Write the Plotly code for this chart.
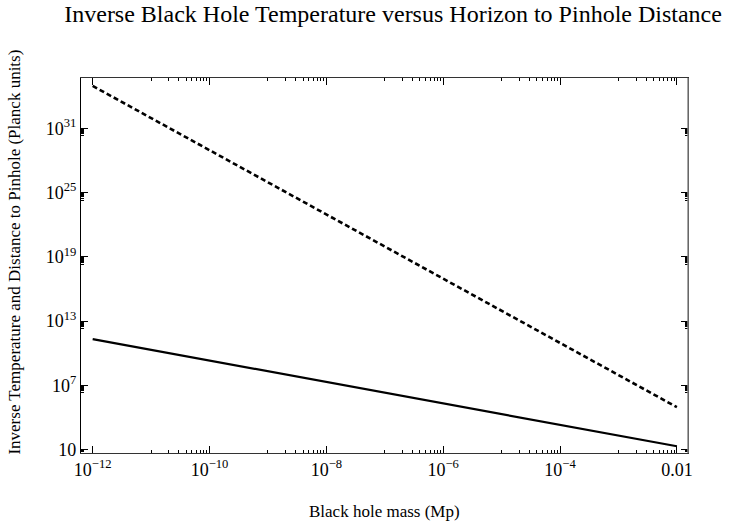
import plotly.graph_objects as go

# Data (log-log straight lines)
mass = [1e-12, 1e-11, 1e-10, 1e-9, 1e-8, 1e-7, 1e-6, 1e-5, 1e-4, 1e-3, 1e-2]
inverse_temperature = [2.05e11, 2.05e10, 2.05e9, 2.05e8, 2.05e7, 2.05e6, 2.05e5, 2.05e4, 2.05e3, 2.05e2, 20.5]
pinhole_distance = [9.1e34, 9.1e31, 9.1e28, 9.1e25, 9.1e22, 9.1e19, 9.1e16, 9.1e13, 9.1e10, 9.1e7, 9.1e4]

x_tickvals = [1e-12, 1e-10, 1e-8, 1e-6, 1e-4, 1e-2]
x_ticktext = ["10<sup>\u221212</sup>", "10<sup>\u221210</sup>", "10<sup>\u22128</sup>",
              "10<sup>\u22126</sup>", "10<sup>\u22124</sup>", "0.01"]
y_tickvals = [1e1, 1e7, 1e13, 1e19, 1e25, 1e31]
y_ticktext = ["10", "10<sup>7</sup>", "10<sup>13</sup>", "10<sup>19</sup>",
              "10<sup>25</sup>", "10<sup>31</sup>"]

FONT = "Liberation Serif"

x_minor = []
for e in [-11, -9, -7, -5, -3]:
    for k in range(1, 10):
        x_minor.append(k * 10.0 ** e)
y_minor = []
for e in [0, 6, 12, 18, 24, 30]:
    for k in range(2, 10):
        y_minor.append(k * 10.0 ** e)

fig = go.Figure()
fig.add_trace(go.Scatter(x=mass, y=pinhole_distance, mode="lines",
                         line=dict(color="black", width=2.6, dash="5px,3px"),
                         showlegend=False))
fig.add_trace(go.Scatter(x=mass, y=inverse_temperature, mode="lines",
                         line=dict(color="black", width=2.2),
                         showlegend=False))

fig.update_layout(
    width=732, height=527,
    margin=dict(l=81, r=44, t=78, b=74),
    paper_bgcolor="white", plot_bgcolor="white",
    font=dict(family=FONT, size=16, color="black"),
    title=dict(text="Inverse Black Hole Temperature versus Horizon to Pinhole Distance",
               x=0.537, xref="container", xanchor="center",
               y=0.975, yref="container", yanchor="middle",
               font=dict(family=FONT, size=24, color="black")),
    xaxis=dict(type="log", range=[-12.2, -1.81], tickvals=x_tickvals, ticktext=x_ticktext,
               ticks="inside", ticklen=7, tickwidth=1, tickcolor="black",
               showline=True, linecolor="#333", linewidth=1.2, mirror="ticks",
               showgrid=False, zeroline=False,
               minor=dict(tickvals=x_minor, ticks="inside", ticklen=3, tickcolor="black", showgrid=False),
               tickfont=dict(family=FONT, size=18)),
    yaxis=dict(type="log", range=[0.68, 35.7], tickvals=y_tickvals, ticktext=y_ticktext,
               ticks="inside", ticklen=7, tickwidth=1, tickcolor="black",
               showline=True, linecolor="black", linewidth=1.2, mirror="ticks",
               showgrid=False, zeroline=False,
               minor=dict(tickvals=y_minor, ticks="inside", ticklen=3, tickcolor="black", showgrid=False),
               tickfont=dict(family=FONT, size=18)),
    annotations=[
        dict(text="Black hole mass (Mp)", xref="paper", yref="paper", x=0.5, y=-0.155,
             xanchor="center", yanchor="middle", showarrow=False,
             font=dict(family=FONT, size=17)),
        dict(text="Inverse Temperature and Distance to Pinhole (Planck units)",
             xref="paper", yref="paper", x=-0.11, y=0.535, textangle=-90,
             xanchor="center", yanchor="middle", showarrow=False,
             font=dict(family=FONT, size=17)),
    ],
    shapes=[
        dict(type="line", xref="paper", yref="paper", x0=1, x1=1, y0=0, y1=1,
             line=dict(color="#8a8a8a", width=1.5)),
    ],
)

fig.write_html("out.html")
